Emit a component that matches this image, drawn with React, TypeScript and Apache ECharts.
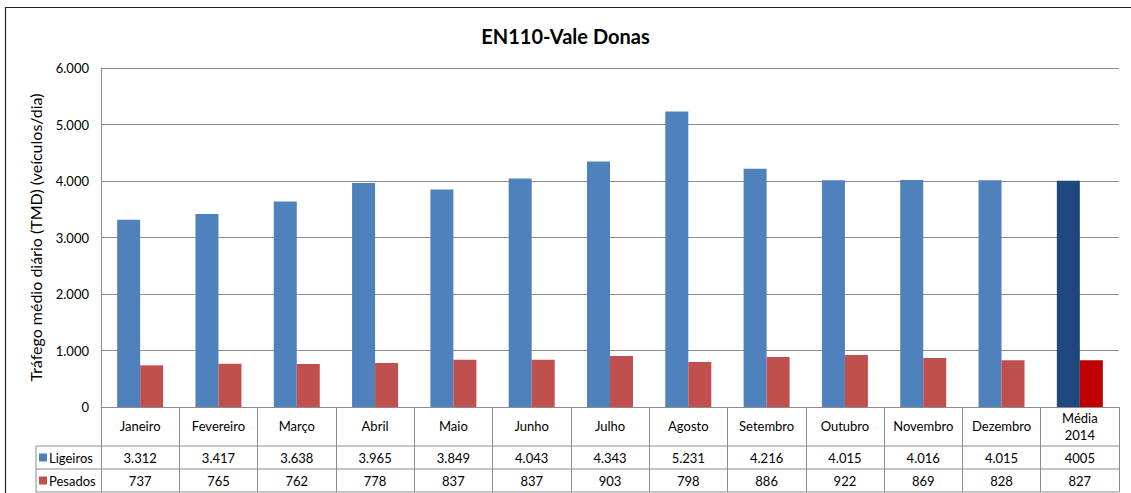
import React, { useEffect, useRef } from "react";
import * as echarts from "echarts";

const categories = ["Janeiro", "Fevereiro", "Março", "Abril", "Maio", "Junho", "Julho", "Agosto", "Setembro", "Outubro", "Novembro", "Dezembro", "Média\n2014"];
const ligeiros = [3312, 3417, 3638, 3965, 3849, 4043, 4343, 5231, 4216, 4015, 4016, 4015, 4005];
const pesados = [737, 765, 762, 778, 837, 837, 903, 798, 886, 922, 869, 828, 827];
const ligeirosLabels = ["3.312", "3.417", "3.638", "3.965", "3.849", "4.043", "4.343", "5.231", "4.216", "4.015", "4.016", "4.015", "4005"];
const pesadosLabels = ["737", "765", "762", "778", "837", "837", "903", "798", "886", "922", "869", "828", "827"];
const seriesNames = ["Ligeiros", "Pesados"];
const yTicks = [0, 1000, 2000, 3000, 4000, 5000, 6000];

const FONT = "Lato, 'Noto Sans', sans-serif";
const BLUE = "#4F81BD";
const RED = "#C0504D";
const BLUE_AVG = "#1F497D";
const RED_AVG = "#C00000";
const LINE = "#8c8c8c";

export default function App() {
  const ref = useRef<HTMLDivElement>(null);
  useEffect(() => {
    if (!ref.current) return;
    const chart = echarts.init(ref.current, undefined, { renderer: "svg" });
    const last = categories.length - 1;
    const fmt = (v: number) => (v === 0 ? "0" : v.toLocaleString("de-DE"));
    const catRowH = 39;
    const rowH = 23;
    chart.setOption({
      animation: false,
      textStyle: { fontFamily: FONT },
      title: {
        text: "EN110-Vale Donas",
        left: "center",
        top: 21,
        textStyle: { fontFamily: FONT, fontSize: 20, fontWeight: "bold", color: "#000" },
      },
      graphic: [
        {
          type: "rect",
          shape: { x: 5.5, y: 7.5, width: 1140, height: 500 },
          style: { fill: "none", stroke: "#222", lineWidth: 1.2 },
          silent: true,
        },
      ],
      grid: { left: 101, right: 12, top: 68, bottom: 86 },
      xAxis: {
        type: "category",
        data: categories,
        axisLine: { show: true, lineStyle: { color: LINE, width: 1 } },
        axisTick: { show: true, interval: 0, length: catRowH + rowH * 2, lineStyle: { color: LINE } },
        axisLabel: {
          interval: 0,
          margin: 19,
          verticalAlign: "middle",
          fontFamily: FONT,
          fontSize: 13,
          color: "#000",
          lineHeight: 17,
        },
      },
      yAxis: {
        type: "value",
        min: 0,
        max: 6000,
        interval: 1000,
        name: "Tráfego médio diário (TMD) (veículos/dia)",
        nameLocation: "middle",
        nameGap: 58,
        nameTextStyle: { fontFamily: FONT, fontSize: 16, color: "#000" },
        axisLine: { show: true, lineStyle: { color: LINE } },
        axisTick: { show: false },
        axisLabel: {
          margin: 12,
          fontFamily: FONT,
          fontSize: 13,
          color: "#000",
          formatter: (v: number) => (yTicks.includes(v) ? fmt(v) : ""),
        },
        splitLine: { show: true, lineStyle: { color: LINE } },
      },
      series: [
        {
          name: seriesNames[0],
          type: "bar",
          barWidth: 23,
          barGap: "0%",
          data: ligeiros.map((v, i) => (i === last ? { value: v, itemStyle: { color: BLUE_AVG } } : v)),
          itemStyle: { color: BLUE },
        },
        {
          name: seriesNames[1],
          type: "bar",
          barWidth: 23,
          barGap: "0%",
          data: pesados.map((v, i) => (i === last ? { value: v, itemStyle: { color: RED_AVG } } : v)),
          itemStyle: { color: RED },
        },
        {
          name: "table",
          type: "custom",
          clip: false,
          silent: true,
          data: categories.map((_, i) => [i]),
          encode: { x: 0 },
          renderItem: (params: any, api: any) => {
            const idx = api.value(0);
            const p = api.coord([idx, 0]);
            const w = api.size([1, 0])[0];
            const x0 = p[0] - w / 2;
            const yb = p[1];
            const y1 = yb + catRowH;
            const y2 = y1 + rowH;
            const y3 = y2 + rowH;
            const lineStyle = { stroke: LINE, lineWidth: 1 };
            const children: any[] = [y1, y2, y3].map((y) => ({
              type: "line",
              shape: { x1: x0, y1: y, x2: x0 + w, y2: y },
              style: lineStyle,
            }));
            children.push({
              type: "text",
              x: p[0],
              y: y1 + rowH / 2 + 0.5,
              style: { text: ligeirosLabels[idx], align: "center", verticalAlign: "middle", font: `13px ${FONT}`, fill: "#000" },
            });
            children.push({
              type: "text",
              x: p[0],
              y: y2 + rowH / 2 + 0.5,
              style: { text: pesadosLabels[idx], align: "center", verticalAlign: "middle", font: `13px ${FONT}`, fill: "#000" },
            });
            if (idx === 0) {
              const lx = x0 - 65;
              [y1, y2, y3].forEach((y) =>
                children.push({ type: "line", shape: { x1: lx, y1: y, x2: x0, y2: y }, style: lineStyle })
              );
              children.push({ type: "line", shape: { x1: lx, y1: y1, x2: lx, y2: y3 }, style: lineStyle });
              [
                [seriesNames[0], BLUE, y1],
                [seriesNames[1], RED, y2],
              ].forEach(([name, color, y]: any) => {
                children.push({
                  type: "rect",
                  shape: { x: lx + 3, y: y + rowH / 2 - 4, width: 8, height: 8 },
                  style: { fill: color },
                });
                children.push({
                  type: "text",
                  x: lx + 13,
                  y: y + rowH / 2 + 0.5,
                  style: { text: name, align: "left", verticalAlign: "middle", font: `13px ${FONT}`, fill: "#000" },
                });
              });
            }
            return { type: "group", children };
          },
        },
      ],
    });
    return () => chart.dispose();
  }, []);
  return (
    <div
      ref={ref}
      style={{ position: "fixed", left: 0, top: 0, width: 1131, height: 493, background: "#fff" }}
    />
  );
}
